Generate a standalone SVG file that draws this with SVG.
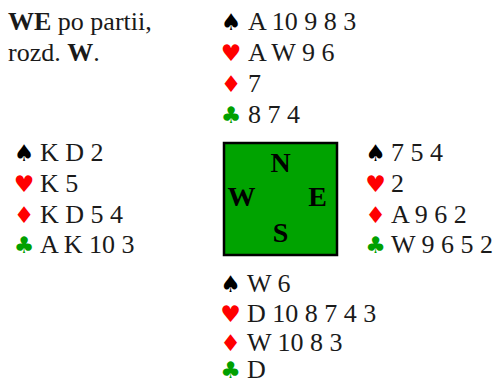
<svg xmlns="http://www.w3.org/2000/svg" width="500" height="384" viewBox="0 0 500 384">
<style>
text{font-family:"Liberation Serif","Times New Roman",serif;font-size:26px;fill:#1a1a1a}
.b{font-weight:bold}
.s{font-family:"DejaVu Sans",sans-serif;font-size:23px;text-anchor:middle}
.k{fill:#000}
.r{fill:#ff0000}
.g{fill:#00a000}
.d{font-weight:bold;font-size:28px;text-anchor:middle;fill:#000}
</style>
<rect width="500" height="384" fill="#fff"/>
<g id="title">
<text x="8" y="30"><tspan class="b">WE</tspan> po partii,</text>
<text x="8" y="61">rozd. <tspan class="b">W</tspan>.</text>
</g>
<g id="north">
<text class="s k" x="231" y="30">♠</text><text x="248" y="30">A 10 9 8 3</text>
<text class="s r" x="231" y="61">♥</text><text x="248" y="61">A W 9 6</text>
<text class="s r" x="231" y="92">♦</text><text x="248" y="92">7</text>
<text class="s g" x="231" y="123">♣</text><text x="248" y="123">8 7 4</text>
</g>
<g id="west">
<text class="s k" x="24" y="161">♠</text><text x="40" y="161">K D 2</text>
<text class="s r" x="24" y="192">♥</text><text x="40" y="192">K 5</text>
<text class="s r" x="24" y="223">♦</text><text x="40" y="223">K D 5 4</text>
<text class="s g" x="24" y="253">♣</text><text x="40" y="253">A K 10 3</text>
</g>
<g id="east">
<text class="s k" x="375.5" y="161">♠</text><text x="391" y="161">7 5 4</text>
<text class="s r" x="375.5" y="192">♥</text><text x="391" y="192">2</text>
<text class="s r" x="375.5" y="223">♦</text><text x="391" y="223">A 9 6 2</text>
<text class="s g" x="375.5" y="253">♣</text><text x="391" y="253">W 9 6 5 2</text>
</g>
<g id="south">
<text class="s k" x="230.5" y="292">♠</text><text x="247" y="292">W 6</text>
<text class="s r" x="230.5" y="322">♥</text><text x="247" y="322">D 10 8 7 4 3</text>
<text class="s r" x="230.5" y="351">♦</text><text x="247" y="351">W 10 8 3</text>
<text class="s g" x="230.5" y="378">♣</text><text x="247" y="378">D</text>
</g>
<g id="table">
<rect x="224" y="143" width="113" height="112" fill="#00a300" stroke="#000" stroke-width="2.5"/>
<text class="d" x="280.5" y="172">N</text>
<text class="d" x="241.5" y="206">W</text>
<text class="d" x="317.5" y="206">E</text>
<text class="d" x="280.5" y="242">S</text>
</g>
</svg>
